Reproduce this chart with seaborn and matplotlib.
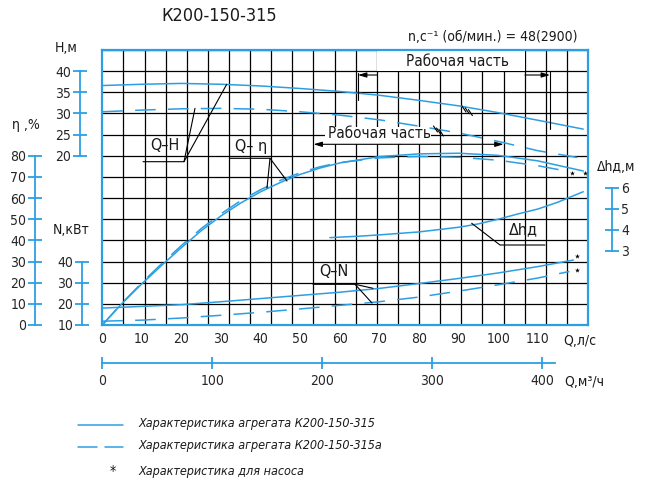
import numpy as np
import matplotlib
matplotlib.use("Agg")
import matplotlib.pyplot as plt
import seaborn as sns
from matplotlib.lines import Line2D
from matplotlib.patches import Rectangle, FancyArrowPatch

# --- data (Q in l/s) ---
q_h = [0, 10, 20, 30, 40, 50, 60, 70, 80, 90, 100, 110, 121.5]
h_315 = [36.6, 36.9, 37.1, 36.9, 36.5, 35.9, 35.2, 34.3, 33.1, 31.8, 30.2, 28.4, 26.3]
q_h_a = [0, 10, 20, 30, 40, 50, 60, 70, 80, 90, 100, 110, 120]
h_315a = [30.4, 30.8, 31.1, 31.2, 31.0, 30.4, 29.6, 28.5, 27.0, 25.4, 23.4, 21.2, 19.6]

q_eta = [0, 5, 10, 15, 20, 25, 30, 35, 40, 45, 50, 55, 60, 70, 80, 90, 100, 110, 121.5]
eta_315 = [0, 10.2, 19.5, 28.2, 36.6, 44.6, 51.6, 57.7, 63.0, 67.4, 71.2, 74.2, 76.6, 79.6, 80.9, 81.2, 80.2, 77.6, 72.8]
q_eta_a = [0, 5, 10, 15, 20, 25, 30, 35, 40, 45, 50, 55, 60, 70, 80, 90, 100, 110, 118]
eta_315a = [0, 10.4, 20.0, 29.0, 37.6, 45.6, 52.6, 58.8, 64.0, 68.4, 72.0, 74.8, 76.8, 79.0, 79.7, 79.3, 77.9, 75.3, 72.5]

q_n = [0, 10, 20, 30, 40, 50, 60, 70, 80, 90, 100, 110, 119]
n_315 = [18.0, 18.8, 19.6, 21.0, 22.5, 24.0, 25.5, 27.3, 29.6, 32.0, 34.6, 37.6, 40.7]
q_n_a = [0, 10, 20, 30, 40, 50, 60, 70, 80, 90, 100, 110, 118]
n_315a = [11.8, 12.3, 13.3, 14.6, 16.0, 17.6, 19.3, 21.0, 23.2, 26.0, 29.0, 32.2, 35.3]

q_dh = [57.5, 65, 70, 80, 90, 95, 100, 105, 110, 115, 121.5]
dh_315 = [3.63, 3.70, 3.76, 3.90, 4.12, 4.28, 4.50, 4.75, 4.98, 5.30, 5.80]

# pump-only points (asterisks)
star_q_eta = [118.6, 121.9]
star_eta = [71.9, 71.9]
star_q_n = [120.0, 120.0]
star_n = [42.6, 36.0]

q_ticks = list(range(0, 111, 10))
m3_ticks = [0, 100, 200, 300, 400]
h_ticks = [20, 25, 30, 35, 40]
eta_ticks = list(range(0, 81, 10))
n_ticks = [10, 20, 30, 40]
dh_ticks = [3, 4, 5, 6]

legend_labels = ["Характеристика агрегата К200-150-315",
                 "Характеристика агрегата К200-150-315а",
                 "Характеристика для насоса"]

BLUE = "#2C9FE2"
W, H = 653, 487
QMAX = 122.7
DASH = (0, (13.5, 8))
TICK_FS = 10

sns.set_style("white")
plt.rcParams["font.family"] = ["DejaVu Sans"]
plt.rcParams["font.stretch"] = "condensed"
plt.rcParams["text.color"] = "#1a1a1a"


def fx(x):
    return x / W


def fy(y):
    return 1 - y / H


def pt(px):
    return px * 72 / 100


fig = plt.figure(figsize=(W / 100, H / 100), dpi=100)
rect = [fx(102.3), fy(325), (588 - 102.3) / W, 275 / H]

# main axes: Q-H and the grid
ax = fig.add_axes(rect)
ax.set_xlim(0, QMAX)
ax.set_ylim(-20, 45)
ax.set_xticks(q_ticks)
ax.set_xticks(np.linspace(0, QMAX, 24), minor=True)
ax.set_yticks([])
ax.set_yticks(np.arange(-20, 46, 5), minor=True)
ax.set_axisbelow(True)
ax.grid(which="minor", color="black", linewidth=0.9)
ax.grid(which="major", visible=False)
ax.tick_params(which="both", length=0)
ax.tick_params(axis="x", pad=pt(7), labelsize=TICK_FS)
ax.set_yticklabels([])
for s in ax.spines.values():
    s.set_color(BLUE)
    s.set_linewidth(1.6)
    s.set_zorder(5)

sns.lineplot(x=q_h, y=h_315, ax=ax, color=BLUE, linewidth=1.1)
sns.lineplot(x=q_h_a, y=h_315a, ax=ax, color=BLUE, linewidth=1.1, linestyle=DASH)


def side_axis(ylim, ticks, side, offset_px):
    a = fig.add_axes(rect)
    a.set_xlim(0, QMAX)
    a.set_ylim(*ylim)
    a.patch.set_visible(False)
    a.set_xticks([])
    for s in a.spines.values():
        s.set_visible(False)
    sp = a.spines[side]
    sp.set_visible(True)
    sp.set_color(BLUE)
    sp.set_linewidth(1.3)
    sp.set_position(("outward", pt(offset_px)))
    sp.set_bounds(ticks[0], ticks[-1])
    if side == "right":
        a.yaxis.tick_right()
    a.set_yticks(ticks)
    a.tick_params(axis="y", direction="inout", length=10, width=1.3,
                  color=BLUE, labelsize=TICK_FS, pad=pt(2),
                  left=(side == "left"), right=(side == "right"))
    return a


ax_hax = side_axis((-20, 45), h_ticks, "left", 22)
ax_eta = side_axis((0, 130), eta_ticks, "left", 67)
ax_n = side_axis((10, 140), n_ticks, "left", 20)
ax_dh = side_axis((-0.5, 12.5), dh_ticks, "right", 24)

sns.lineplot(x=q_eta, y=eta_315, ax=ax_eta, color=BLUE, linewidth=1.1)
sns.lineplot(x=q_eta_a, y=eta_315a, ax=ax_eta, color=BLUE, linewidth=1.1, linestyle=DASH)
sns.lineplot(x=q_n, y=n_315, ax=ax_n, color=BLUE, linewidth=1.1)
sns.lineplot(x=q_n_a, y=n_315a, ax=ax_n, color=BLUE, linewidth=1.1, linestyle=DASH)
sns.lineplot(x=q_dh, y=dh_315, ax=ax_dh, color=BLUE, linewidth=1.1)

sns.scatterplot(x=star_q_eta, y=star_eta, ax=ax_eta, marker="*", s=14, color="black", linewidth=0)
sns.scatterplot(x=star_q_n, y=star_n, ax=ax_n, marker="*", s=14, color="black", linewidth=0)

# m3/h ruler
ax_m3 = fig.add_axes([rect[0], fy(362.7), rect[2], 0.001])
ax_m3.set_xlim(0, QMAX * 3.6)
ax_m3.patch.set_visible(False)
ax_m3.set_yticks([])
for s in ax_m3.spines.values():
    s.set_visible(False)
ax_m3.spines["bottom"].set_visible(True)
ax_m3.spines["bottom"].set_color(BLUE)
ax_m3.spines["bottom"].set_linewidth(1.3)
ax_m3.spines["bottom"].set_bounds(0, 411.5)
ax_m3.set_xticks(m3_ticks)
ax_m3.tick_params(axis="x", direction="inout", length=8, width=1.3, color=BLUE,
                  labelsize=TICK_FS, pad=pt(6), bottom=True)


# --- texts ---
def txt(x, y, s, size=TICK_FS, **kw):
    fig.text(fx(x), fy(y), s, fontsize=size, ha=kw.pop("ha", "center"),
             va=kw.pop("va", "center"), **kw)


txt(219, 16, "К200-150-315", size=13)
txt(493, 37, "n,с⁻¹ (об/мин.) = 48(2900)", size=10)
txt(66, 48, "H,м")
txt(26, 125, "η ,%")
txt(71, 230, "N,кВт")
txt(616, 167, "Δhд,м")
txt(580, 341, "Q,л/с")
txt(584, 382, "Q,м³/ч")

# white boxes behind the "working part" labels
for (x0, y0, x1, y1) in [(376.7, 50.5, 525, 71), (325, 126.5, 431, 144)]:
    ax.add_patch(Rectangle((fx(x0), fy(y1)), fx(x1) - fx(x0), fy(y0) - fy(y1),
                           transform=fig.transFigure, facecolor="white",
                           edgecolor="none", zorder=0.9))

txt(457, 61, "Рабочая часть", size=11)
txt(380, 134, "Рабочая часть", size=11)
txt(165, 146, "Q–H", size=11.5)
txt(251, 146, "Q– η", size=11.5)
txt(334, 271, "Q–N", size=11.5)
txt(523, 230, "Δhд", size=11.5)


def seg(pts, lw=0.8, color="black"):
    xs = [fx(p[0]) for p in pts]
    ys = [fy(p[1]) for p in pts]
    fig.add_artist(Line2D(xs, ys, transform=fig.transFigure, color=color, linewidth=lw))


def arrow(x0, y0, x1, y1):
    fig.add_artist(FancyArrowPatch(
        (fx(x0), fy(y0)), (fx(x1), fy(y1)), transform=fig.transFigure,
        arrowstyle="-|>,head_length=5,head_width=1.5", color="black", linewidth=0.8,
        shrinkA=0, shrinkB=0))


# leaders
seg([(143, 161.7), (184, 161.7), (195, 108.3)])
seg([(184, 161.7), (226.7, 84.3)])
seg([(230, 158.3), (270, 158.3), (287, 181)])
seg([(270, 158.3), (267, 188)])
seg([(313, 284.3), (355, 284.3), (373, 288.3)])
seg([(355, 284.3), (372, 303)])
seg([(545, 245), (500, 245), (471.7, 223.3)])

# working-part dimension lines
seg([(358, 73), (358, 100)])
seg([(550, 71), (550, 129)])
arrow(377, 75, 358, 75)
arrow(525, 75, 550, 75)
arrow(400, 144.3, 313.5, 144.3)
arrow(400, 144.3, 503.6, 144.3)

# hatch marks on the H curves
for i in range(3):
    seg([(462 + 3.2 * i, 106 + 1.8 * i), (466 + 3.2 * i, 112 + 1.8 * i)])
    seg([(433.5 + 3.0 * i, 126 + 2.0 * i), (437.5 + 3.0 * i, 132 + 2.0 * i)])

# legend
seg([(78, 425), (123, 425)], lw=1.1, color=BLUE)
seg([(78, 447), (97, 447)], lw=1.1, color=BLUE)
seg([(105, 447), (123, 447)], lw=1.1, color=BLUE)
txt(113, 471, "*", size=10)
for i, lab in enumerate(legend_labels):
    txt(138, [424, 446, 471][i], lab, size=9, ha="left", style="italic")

plt.savefig("out.png", dpi=100)
